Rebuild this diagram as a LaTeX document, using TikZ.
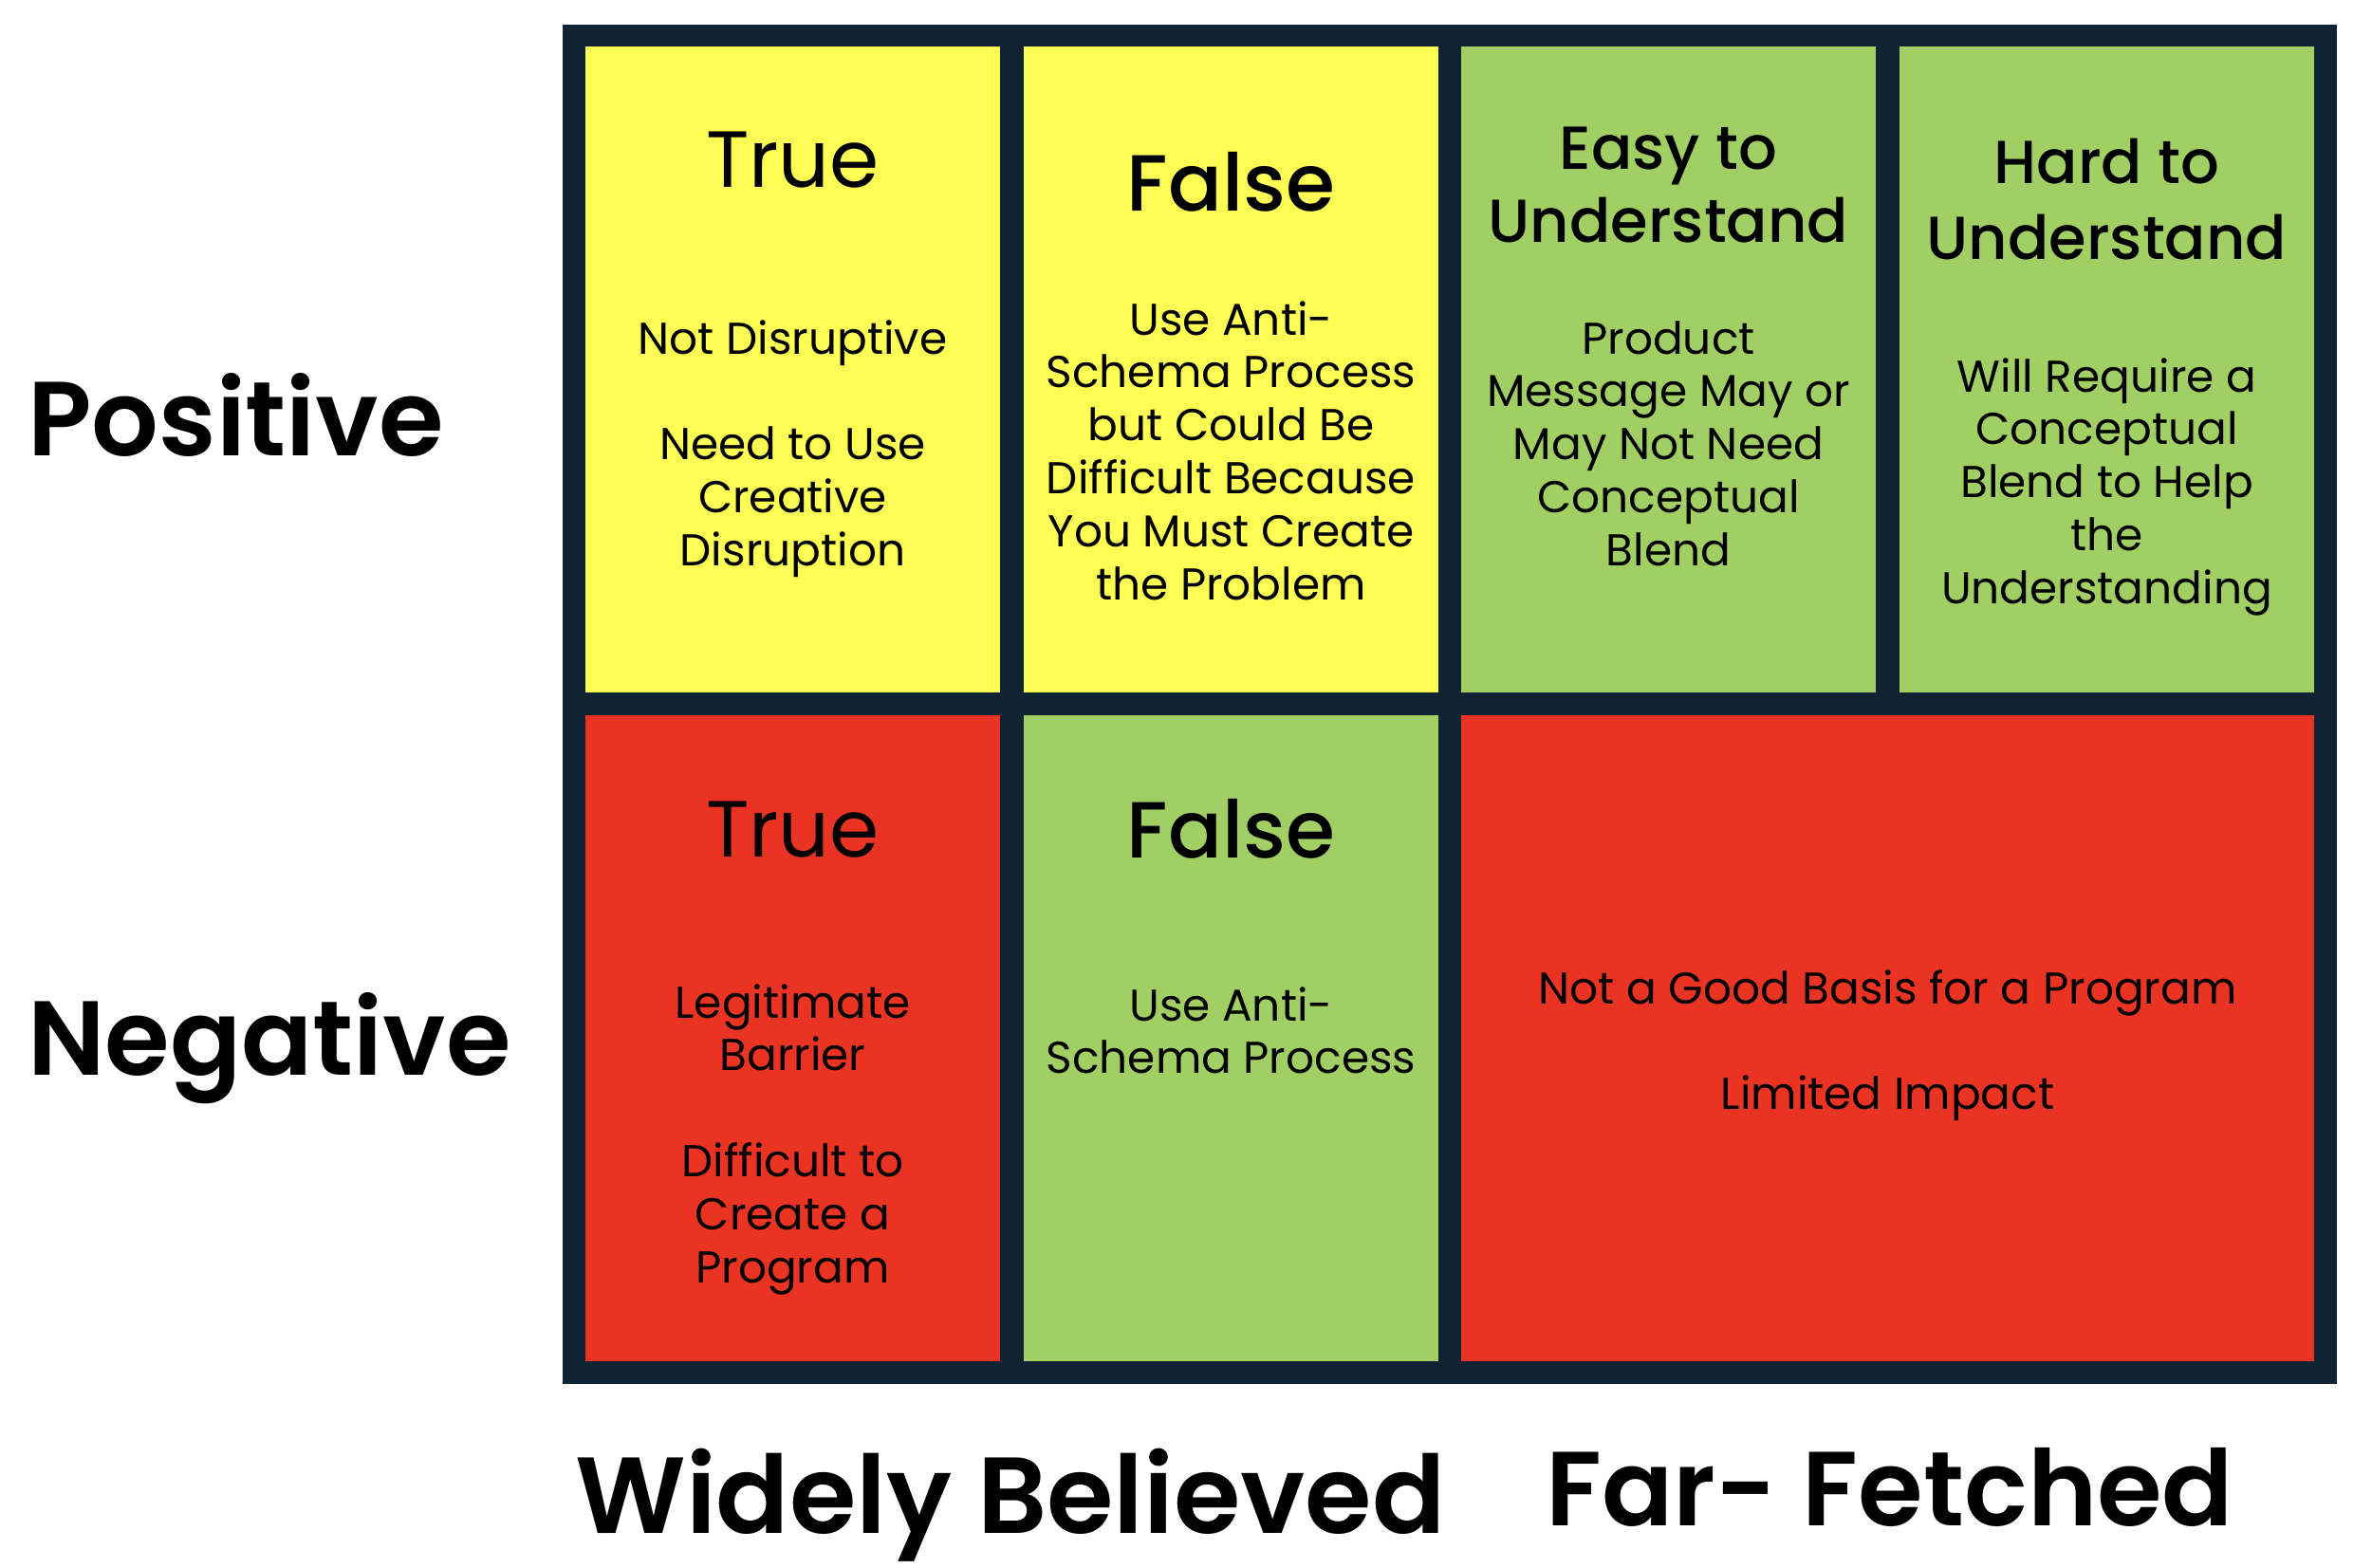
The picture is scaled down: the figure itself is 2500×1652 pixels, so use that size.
\documentclass[tikz,border=0pt]{standalone}
\usepackage{fontspec}
\setmainfont{Poppins}
\newfontfamily\pmed{Poppins Medium}
\newfontfamily\psemi{Poppins SemiBold}
\definecolor{navyc}{HTML}{102332}
\definecolor{yelc}{HTML}{FEFE55}
\definecolor{grnc}{HTML}{A1CF63}
\definecolor{redc}{HTML}{E93323}
\newcommand{\bodysz}{\fontsize{47}{55.8}\selectfont}
\newcommand{\headsz}{\fontsize{84}{90}\selectfont}
\newcommand{\axsz}{\psemi\fontsize{111}{120}\selectfont}
\newcommand{\ctab}[1]{\begin{tabular}[t]{@{}c@{}}#1\end{tabular}}
\begin{document}
\begin{tikzpicture}[x=1pt,y=-1pt,
  cell/.style={draw=none,minimum width=437.5pt,minimum height=681pt,inner sep=0pt,outer sep=0pt},
  bigcell/.style={draw=none,minimum width=899pt,minimum height=681pt,inner sep=0pt,outer sep=0pt},
  body/.style={font=\bodysz,anchor=base,inner sep=0pt},
  headtxt/.style={font=\headsz,anchor=base,inner sep=0pt},
  medhead/.style={font=\pmed\headsz,anchor=base,inner sep=0pt},
  subh/.style={font=\pmed\fontsize{64}{77}\selectfont,anchor=base,inner sep=0pt},
  subhb/.style={font=\pmed\fontsize{64}{80}\selectfont,anchor=base,inner sep=0pt},
  axis/.style={font=\axsz,anchor=base,inner sep=0pt}]
\useasboundingbox (0,0) rectangle (2500,1652);
\fill[white] (0,0) rectangle (2500,1652);
\node[draw=none,fill=navyc,minimum width=1870pt,minimum height=1433pt,inner sep=0pt] (frame) at (1528,742.5) {};
% row 1
\node[cell,fill=yelc] (c11) at (835.5,389.5) {};
\node[cell,fill=yelc] (c12) at (1297.5,389.5) {};
\node[cell,fill=grnc] (c13) at (1758.5,389.5) {};
\node[cell,fill=grnc] (c14) at (2220.5,389.5) {};
% row 2
\node[cell,fill=redc] (c21) at (835.5,1094.5) {};
\node[cell,fill=grnc] (c22) at (1297.5,1094.5) {};
\node[bigcell,fill=redc] (c23) at (1989.5,1094.5) {};
% texts row 1
\node[headtxt] (h11) at (835.5,197) {True};
\node[body] (b11) at (835.5,373) {\ctab{Not Disruptive\\[55.8pt]Need to Use\\Creative\\Disruption}};
\node[medhead] (h12) at (1297.5,222) {False};
\node[body] (b12) at (1297.5,353) {\ctab{Use Anti-\\Schema Process\\but Could Be\\Difficult Because\\You Must Create\\the Problem}};
\node[subh] (h13) at (1758.5,178) {\ctab{Easy to\\Understand}};
\node[body] (b13) at (1758.5,373) {\ctab{Product\\Message May or\\May Not Need\\Conceptual\\Blend}};
\node[subhb] (h14) at (2220.5,193) {\ctab{Hard to\\Understand}};
\node[body] (b14) at (2220.5,413) {\ctab{Will Require a\\Conceptual\\Blend to Help\\the\\Understanding}};
% texts row 2
\node[headtxt] (h21) at (835.5,903) {True};
\node[body] (b21) at (835.5,1073) {\ctab{Legitimate\\Barrier\\[55.8pt]Difficult to\\Create a\\Program}};
\node[medhead] (h22) at (1297.5,904) {False};
\node[body] (b22) at (1297.5,1076) {\ctab{Use Anti-\\Schema Process}};
\node[body] (b23) at (1989.5,1058) {\ctab{Not a Good Basis for a Program\\[55.8pt]Limited Impact}};
% axis labels
\node[axis,anchor=base west] (pos) at (29,480) {Positive};
\node[axis,anchor=base west] (neg) at (29,1133) {Negative};
\node[axis,font=\psemi\fontsize{114}{120}\selectfont] (wide) at (1065,1616) {Widely Believed};
\node[axis] (far) at (1992,1608) {Far- Fetched};
\end{tikzpicture}
\end{document}
